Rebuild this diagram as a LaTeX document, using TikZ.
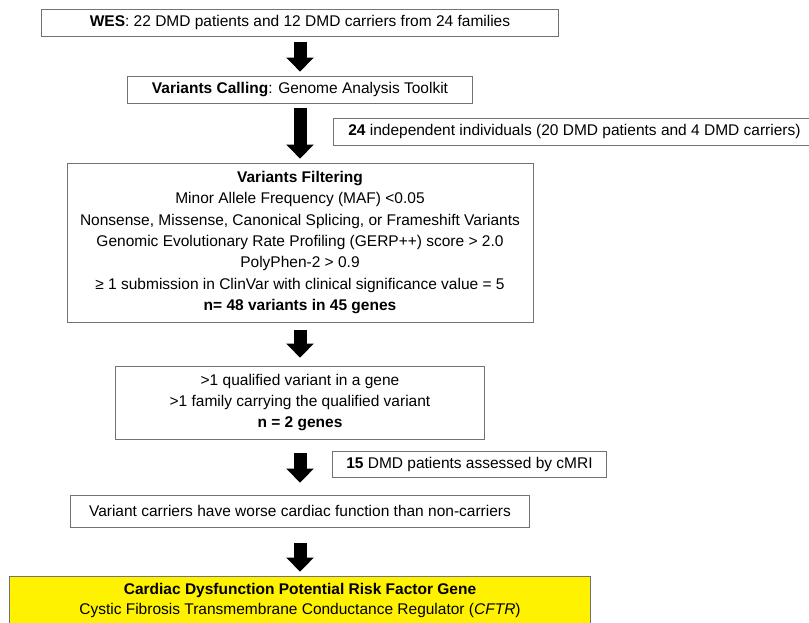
\documentclass[tikz,border=0pt]{standalone}
\usepackage{fontspec}
\setmainfont{Liberation Sans}
\usetikzlibrary{positioning, arrows.meta, shadows}

\begin{document}
\begin{tikzpicture}[x=1pt, y=-1pt, node distance=60pt, on grid,
    every node/.style={font=\fontsize{15.5}{21.3}\selectfont, align=center, inner sep=0pt},
    box/.style={draw=black!55, line width=0.9pt, fill=white,
      drop shadow={shadow xshift=0.8pt, shadow yshift=-0.8pt, opacity=0.6, fill=black!70}},
    bigarrow/.style={line width=13pt, -{Triangle[width=27pt, length=14pt]}}]
  \useasboundingbox (0,0) rectangle (809,622);
  \clip (0,0) rectangle (809,622);

  % Steps down the middle
  \node[box, minimum width=517pt, minimum height=27pt] (wes) at (300,22.5)
    {\textbf{WES}: 22 DMD patients and 12 DMD carriers from 24 families};
  \node[box, minimum width=345pt, minimum height=27pt] (calling) [below=67pt of wes]
    {\textbf{Variants Calling}: Genome Analysis Toolkit};
  \node[box, minimum width=466pt, minimum height=159pt] (filtering) [below=153pt of calling]
    {\textbf{Variants Filtering}\\
     Minor Allele Frequency (MAF) <0.05\\
     Nonsense, Missense, Canonical Splicing, or Frameshift Variants\\
     Genomic Evolutionary Rate Profiling (GERP++) score > 2.0\\
     PolyPhen-2 > 0.9\\
     ≥ 1 submission in ClinVar with clinical significance value = 5\\
     \textbf{n= 48 variants in 45 genes}};
  \node[box, minimum width=369pt, minimum height=73pt] (genes) [below=160pt of filtering]
    {>1 qualified variant in a gene\\
     >1 family carrying the qualified variant\\
     \textbf{n = 2 genes}};
  \node[box, minimum width=459pt, minimum height=32pt] (carriers) [below=108.5pt of genes]
    {Variant carriers have worse cardiac function than non-carriers};
  \node[box, fill=yellow, minimum width=581pt, minimum height=48pt] (riskgene) [below=89pt of carriers]
    {\textbf{Cardiac Dysfunction Potential Risk Factor Gene}\\[-1.3pt]
     Cystic Fibrosis Transmembrane Conductance Regulator (\textit{CFTR})};

  % Side notes
  \node[box, anchor=west, minimum width=482pt, minimum height=27pt] (indiv) at (333,131.5)
    {\textbf{24} independent individuals (20 DMD patients and 4 DMD carriers)};
  \node[box, anchor=west, minimum width=274pt, minimum height=26pt] (cmri) at (332,464)
    {\textbf{15} DMD patients assessed by cMRI};

  % Block arrows
  \draw[bigarrow, shorten <=6pt, shorten >=4pt] (wes) -- (calling);
  \draw[bigarrow, shorten <=5pt, shorten >=4pt] (calling) -- (filtering);
  \draw[bigarrow, shorten <=8pt, shorten >=8pt] (filtering) -- (genes);
  \draw[bigarrow, shorten <=14pt, shorten >=12pt] (genes) -- (carriers);
  \draw[bigarrow, shorten <=16pt, shorten >=4pt] (carriers) -- (riskgene);
\end{tikzpicture}
\end{document}
